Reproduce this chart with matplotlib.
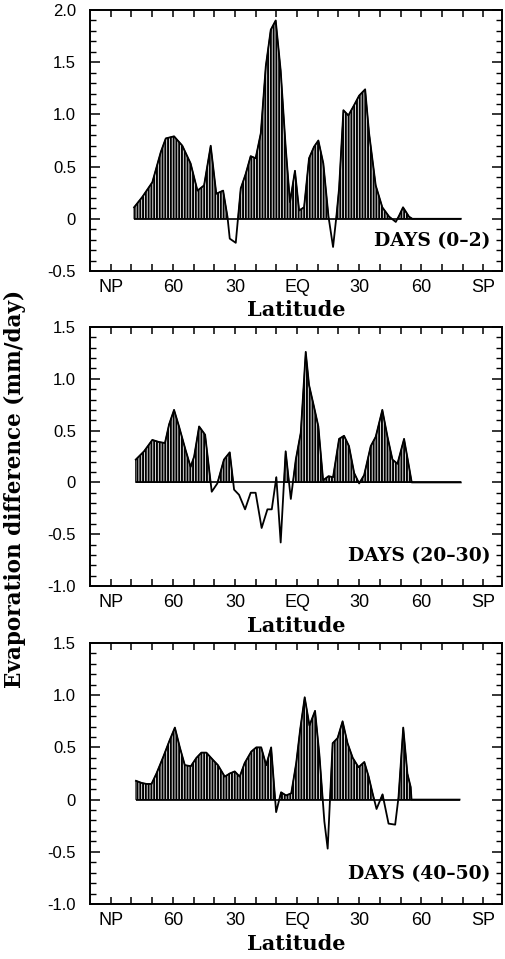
import numpy as np
import matplotlib
matplotlib.use("Agg")
import matplotlib.pyplot as plt
from matplotlib.ticker import MultipleLocator

# latitude in degrees, north positive (NP = 90, SP = -90)
lat_days_0_2 = [78.7, 74.7, 69.9, 65.8, 63.4, 59.4, 55.4, 51.4, 48.1, 44.9, 41.7, 39.0,
                35.7, 33.6, 32.5, 29.6, 27.2, 24.8, 22.4, 20.0, 17.5, 15.1, 12.7, 10.3,
                7.9, 5.5, 3.4, 1.0, -1.0, -3.4, -5.8, -8.2, -10.3, -12.7, -15.2, -17.4,
                -19.0, -20.3, -22.4, -24.8, -27.6, -30.0, -32.9, -34.8, -38.0, -41.2,
                -44.5, -47.7, -49.3, -51.2, -54.1, -55.7, -79.1]
evap_days_0_2 = [0.11, 0.21, 0.35, 0.64, 0.77, 0.79, 0.70, 0.53, 0.27, 0.32, 0.70, 0.24,
                 0.27, 0.02, -0.19, -0.23, 0.29, 0.43, 0.60, 0.58, 0.82, 1.46, 1.81, 1.90,
                 1.42, 0.69, 0.16, 0.46, 0.08, 0.11, 0.58, 0.69, 0.75, 0.53, 0.02, -0.27,
                 0.02, 0.29, 1.04, 0.99, 1.09, 1.18, 1.24, 0.82, 0.32, 0.11,
                 0.02, -0.03, 0.03, 0.11, 0.02, 0.0, 0.0]

lat_days_20_30 = [77.9, 73.9, 69.9, 66.7, 63.8, 61.8, 59.4, 57.0, 53.8, 51.4, 49.7, 47.3,
                  44.4, 41.2, 38.5, 35.3, 32.5, 30.4, 28.0, 25.1, 22.4, 20.0, 17.1, 14.3,
                  12.2, 10.0, 7.9, 5.5, 3.0, 0.6, -1.8, -4.2, -5.8, -8.2, -10.3, -12.6,
                  -15.2, -17.4, -20.3, -22.7, -25.1, -27.6, -30.0, -32.4, -35.6, -38.0,
                  -41.2, -43.7, -46.1, -48.5, -51.7, -54.1, -55.4, -79.1]
evap_days_20_30 = [0.22, 0.30, 0.41, 0.39, 0.38, 0.56, 0.70, 0.54, 0.31, 0.15, 0.25, 0.54,
                   0.46, -0.09, -0.01, 0.22, 0.29, -0.07, -0.12, -0.26, -0.10, -0.10, -0.44,
                   -0.26, -0.26, 0.05, -0.58, 0.30, -0.16, 0.22, 0.48, 1.26, 0.94, 0.73,
                   0.54, 0.02, 0.06, 0.05, 0.42, 0.45, 0.35, 0.09, -0.01, 0.07, 0.35, 0.44,
                   0.70, 0.44, 0.22, 0.18, 0.42, 0.15, 0.0, 0.0]

lat_days_40_50 = [77.8, 75.1, 72.7, 70.3, 67.9, 64.6, 61.7, 59.0, 56.6, 54.2, 51.3, 48.6,
                  46.2, 43.8, 40.6, 38.2, 34.9, 32.5, 30.1, 27.7, 25.3, 22.1, 19.7, 17.3,
                  14.9, 12.5, 10.1, 7.7, 5.3, 2.8, 0.4, -1.5, -3.7, -6.0, -8.7, -10.8,
                  -13.2, -14.8, -17.2, -19.6, -22.0, -24.4, -26.9, -29.7, -32.5, -34.6,
                  -36.5, -38.4, -41.3, -44.2, -47.4, -49.0, -51.3, -53.3, -54.9, -55.3,
                  -78.5]
evap_days_40_50 = [0.18, 0.16, 0.15, 0.15, 0.25, 0.41, 0.56, 0.69, 0.50, 0.33, 0.32, 0.40,
                   0.45, 0.45, 0.38, 0.33, 0.22, 0.25, 0.27, 0.22, 0.35, 0.46, 0.50, 0.50,
                   0.33, 0.50, -0.12, 0.07, 0.04, 0.06, 0.35, 0.67, 0.98, 0.71, 0.85, 0.43,
                   -0.21, -0.47, 0.54, 0.59, 0.75, 0.54, 0.40, 0.31, 0.36, 0.22,
                   0.06, -0.09, 0.05, -0.23, -0.24, 0.02, 0.69, 0.25, 0.12, 0.0,
                   0.0]

panel_titles = ["DAYS (0\u20132)", "DAYS (20\u201330)", "DAYS (40\u201350)"]

lat_ticks = list(range(90, -91, -10))
lat_tick_labels = ["NP", "", "", "60", "", "", "30", "", "", "EQ",
                   "", "", "30", "", "", "60", "", "", "SP"]

y_ticks_top = [-0.5, 0.0, 0.5, 1.0, 1.5, 2.0]
y_labels_top = ["-0.5", "0", "0.5", "1.0", "1.5", "2.0"]
y_ticks_low = [-1.0, -0.5, 0.0, 0.5, 1.0, 1.5]
y_labels_low = ["-1.0", "-0.5", "0", "0.5", "1.0", "1.5"]

plt.rcParams['hatch.linewidth'] = 1.4

serif_bold = dict(family=['DejaVu Serif'], fontweight='bold')
tick_font = ['Liberation Sans', 'DejaVu Sans']

fig = plt.figure(figsize=(5.06, 9.59), dpi=100)

W, H = 506.0, 959.0
# left, top, right, bottom of each panel box in pixels
boxes = [(90, 10, 502, 271), (90, 327, 502, 586), (90, 643, 502, 904)]

panels = [
    (lat_days_0_2, evap_days_0_2, (-0.5, 2.0), y_ticks_top, y_labels_top),
    (lat_days_20_30, evap_days_20_30, (-1.0, 1.5), y_ticks_low, y_labels_low),
    (lat_days_40_50, evap_days_40_50, (-1.0, 1.5), y_ticks_low, y_labels_low),
]

for i, (lats, vals, ylim, yt, ytl) in enumerate(panels):
    l, t, r, b = boxes[i]
    ax = fig.add_axes([l / W, 1 - b / H, (r - l) / W, (b - t) / H])
    lats = np.array(lats)
    vals = np.array(vals)

    ax.fill_between(lats, 0, vals, where=vals > 0, interpolate=True,
                    facecolor='white', edgecolor='black', hatch='||||||',
                    linewidth=0.8)
    ax.plot(lats, vals, color='black', lw=1.3)
    ax.hlines(0, lats[0], lats[-1], color='black', lw=1.2)

    ax.set_xlim(100, -99)
    ax.set_ylim(*ylim)
    ax.set_xticks(lat_ticks)
    ax.set_xticklabels(lat_tick_labels, family=tick_font, fontsize=13)
    ax.set_yticks(yt)
    ax.set_yticklabels(ytl, family=tick_font, fontsize=12)
    ax.yaxis.set_minor_locator(MultipleLocator(0.1))

    ax.tick_params(axis='x', direction='in', top=True, bottom=True,
                   length=5, width=1.1, pad=6)
    ax.tick_params(axis='y', which='major', direction='in', left=True,
                   right=True, length=7, width=1.1, pad=10)
    ax.tick_params(axis='y', which='minor', direction='in', left=True,
                   right=True, length=4, width=1.0)
    for s in ax.spines.values():
        s.set_linewidth(1.4)

    ax.set_xlabel("Latitude", fontsize=15, labelpad=3, **serif_bold)
    ax.text(0.972, 0.115, panel_titles[i], transform=ax.transAxes,
            ha='right', va='center', fontsize=13.5, **serif_bold)

fig.text(15 / W, 1 - 489 / H, "Evaporation difference (mm/day)",
         rotation=90, ha='center', va='center', fontsize=15.5, **serif_bold)

fig.savefig("out.png", dpi=100)
